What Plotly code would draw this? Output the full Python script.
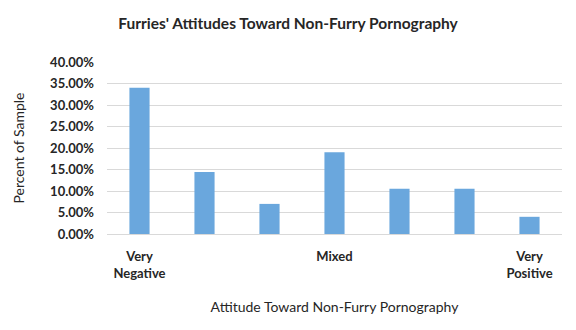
import plotly.graph_objects as go

categories = [1, 2, 3, 4, 5, 6, 7]
tick_labels = ["Very<br>Negative", "", "", "Mixed", "", "", "Very<br>Positive"]
values = [34.0, 14.4, 7.0, 19.0, 10.5, 10.5, 4.0]

fig = go.Figure(go.Bar(
    x=categories, y=values,
    marker=dict(color="#6AA7DD", line=dict(width=0)),
    hoverinfo="skip",
))

font = "Lato, 'Open Sans', sans-serif"
fig.update_layout(
    width=576, height=330,
    margin=dict(l=107, r=14, t=62, b=96),
    paper_bgcolor="white", plot_bgcolor="white",
    bargap=0.69,
    showlegend=False,
    title=dict(text="<b>Furries' Attitudes Toward Non-Furry Pornography</b>",
               x=0.5, xanchor="center", y=0.93, yanchor="middle",
               font=dict(family=font, size=15.5, color="#262626")),
    font=dict(family=font, color="#262626"),
)
fig.update_xaxes(
    range=[0.5, 7.5], tickvals=categories,
    ticktext=["<b>" + t + "</b>" if t else "" for t in tick_labels],
    tickfont=dict(size=13, color="#262626"),
    showgrid=False, showline=True, linecolor="#D9D9D9", linewidth=1,
    ticks="", ticklabelstandoff=10,
    title=dict(text="Attitude Toward Non-Furry Pornography",
               font=dict(size=14, color="#262626"), standoff=22),
)
fig.update_yaxes(
    range=[0, 40], dtick=5, tickformat=".2f",
    tickfont=dict(size=13, color="#262626"),
    showgrid=True, gridcolor="#D9D9D9", gridwidth=1,
    zeroline=False, showline=False, ticks="", ticklabelstandoff=12,
    title=dict(text="Percent of Sample", font=dict(size=14, color="#262626"), standoff=22),
)
fig.update_yaxes(tickprefix="<b>", ticksuffix="%</b>")

fig.write_html("out.html")
